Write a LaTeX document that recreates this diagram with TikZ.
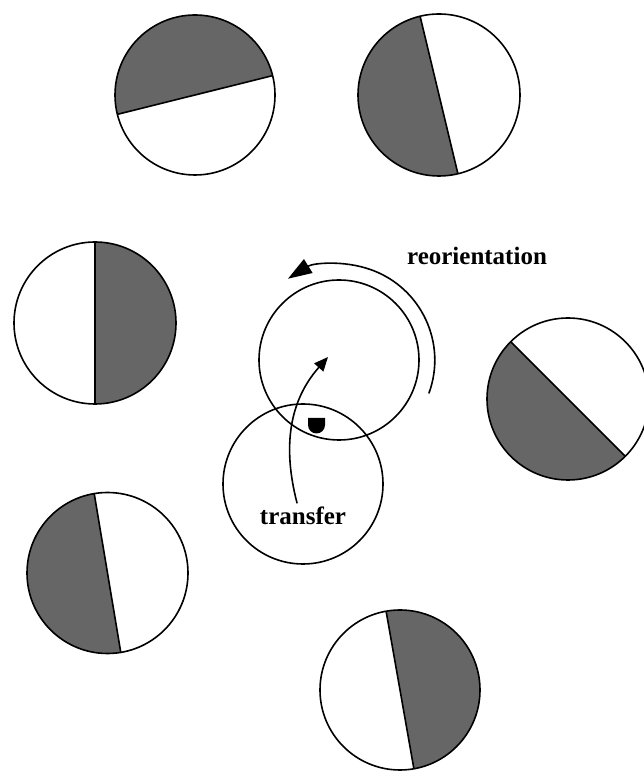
\documentclass[tikz,border=0pt]{standalone}
\usepackage{fontspec}
\setmainfont{Liberation Serif}
\usetikzlibrary{arrows.meta}
\definecolor{hemi}{HTML}{666666}
\begin{document}
\begin{tikzpicture}[x=1pt,y=1pt,font=\fontsize{25}{30}\selectfont\bfseries,line join=round,line cap=round,line width=1.6pt,>={Triangle[length=14pt,width=12pt]}]
\useasboundingbox (0,0) rectangle (643,771);
\path
(339,411) coordinate (U)
(303,287) coordinate (L)
(429,378) coordinate (R0)
(328,414) coordinate (T1)
;
% particles: centre x/centre y/radius/start of the grey half
\foreach \cx/\cy/\r/\a in {195/676/80/14, 439/676/81/103.5, 95/448/81/-90, 568/372/81/135, 107.5/198/80.5/99.5, 400/81/80/-80}
{
\fill[hemi,shift={(\cx,\cy)}] (\a:\r) arc[start angle=\a, delta angle=180, radius=\r] -- cycle;
\draw[shift={(\cx,\cy)}] (0,0) circle (\r) (\a:\r) -- (\a+180:\r);
}
\draw (U) circle (80) (L) circle (80);
\draw[-{Triangle[length=24pt,width=16pt]}] (R0) arc[start angle=-20, end angle=122, radius=96];
\fill (308,353) -- (325,353) -- (325,346) arc[start angle=0, end angle=-180, radius=8.5] -- cycle;
\node (reor) at (477,515) {reorientation};
\node (trans) at (303,255) {transfer};
\draw[->] ([xshift=-6pt]trans.north) .. controls (282,326) and (290,371) .. (T1);
\end{tikzpicture}
\end{document}
